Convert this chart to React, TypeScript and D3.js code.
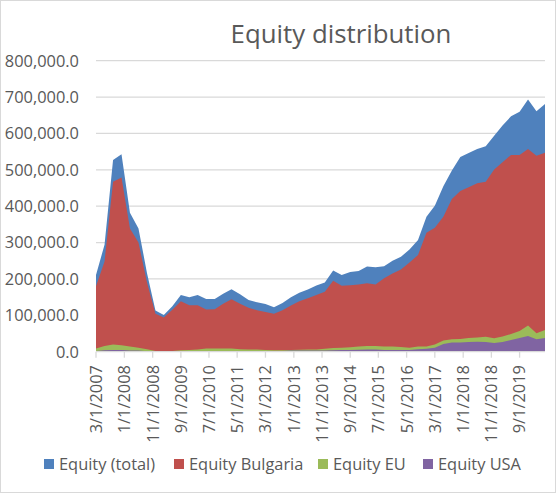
import * as React from 'react'
import { useEffect, useRef, FunctionComponent } from 'react'
import * as d3 from 'd3'

// Quarterly observations, 3/1/2007 .. 6/1/2020
const startDate = new Date(2007, 2, 1)
const endDate = new Date(2020, 5, 1)
const dates = d3.timeMonth.range(startDate, d3.timeMonth.offset(endDate, 1), 3)

const equityTotal = [
  211000, 294000, 527000, 543000, 382000, 339000, 216000, 113000, 101000, 125000,
  156000, 150000, 156000, 145000, 145000, 159000, 172000, 158000, 142000, 136000,
  131000, 122000, 134000, 150000, 162000, 171000, 182000, 190000, 223000, 211000,
  219000, 222000, 234000, 232000, 235000, 250000, 261000, 281000, 307000, 371000,
  401000, 455000, 498000, 535000, 546000, 557000, 565000, 594000, 622000, 647000,
  660000, 693000, 661000, 681000,
]
const equityBulgaria = [
  180000, 248000, 467000, 479000, 339000, 300000, 190000, 104000, 94000, 115000,
  139000, 128000, 128000, 116000, 117000, 132000, 144000, 132000, 121000, 114000,
  109000, 104000, 114000, 127000, 139000, 147000, 156000, 165000, 195000, 181000,
  183000, 185000, 188000, 185000, 202000, 215000, 226000, 245000, 266000, 327000,
  341000, 371000, 420000, 442000, 452000, 463000, 467000, 501000, 521000, 541000,
  541000, 557000, 539000, 547000,
]
const equityEU = [
  9000, 15500, 20000, 18000, 14000, 11000, 7000, 2000, 2000, 2000,
  4000, 5000, 6000, 9000, 9000, 9000, 9000, 7000, 6000, 6000,
  5000, 4000, 4000, 5000, 5500, 6000, 6000, 8000, 10000, 11000,
  12000, 14000, 15500, 15500, 14500, 14000, 13000, 11000, 14000, 14000,
  20000, 31000, 34000, 35000, 38000, 39000, 41000, 37000, 42000, 48500,
  57000, 72000, 51000, 60000,
]
const equityUSA = [
  2000, 4000, 4500, 4500, 3500, 3000, 1500, 500, 500, 500,
  500, 500, 500, 1000, 1000, 1500, 2000, 2000, 2000, 2000,
  2000, 2000, 2000, 3000, 3000, 3000, 3000, 3000, 4000, 4500,
  5000, 5500, 6000, 6000, 5000, 5000, 4600, 4600, 6400, 8000,
  11000, 21000, 25000, 25000, 27000, 27500, 27000, 24000, 27000, 32000,
  38000, 43000, 34000, 37500,
]

const seriesNames = ['Equity (total)', 'Equity Bulgaria', 'Equity EU', 'Equity USA']
const seriesValues = [equityTotal, equityBulgaria, equityEU, equityUSA]
const colors = ['#4f81bd', '#c0504d', '#9bbb59', '#8064a2']

const yTicks = d3.range(0, 800001, 100000)
const xTicks = d3.timeMonth.range(startDate, d3.timeMonth.offset(endDate, 1), 10)

const W = 556
const H = 493
const FONT = '"Open Sans", sans-serif'
const TEXT = '#595959'

const App: FunctionComponent = () => {
  const svgRef = useRef<SVGSVGElement | null>(null)

  useEffect(() => {
    const svg = d3.select(svgRef.current)
    svg.selectAll('*').remove()

    const x = d3.scaleTime().domain([startDate, endDate]).range([96, 545])
    const y = d3.scaleLinear().domain([0, 800000]).range([351.7, 60.7])

    // chart border
    svg.append('rect')
      .attr('x', 0.5).attr('y', 0.5).attr('width', W - 1).attr('height', H - 1)
      .attr('fill', '#fff').attr('stroke', '#d9d9d9')

    svg.append('text')
      .attr('x', 341).attr('y', 43)
      .attr('text-anchor', 'middle')
      .attr('font-family', FONT).attr('font-size', 25.8).attr('fill', TEXT)
      .text('Equity distribution')

    // gridlines + y labels
    const gy = svg.append('g')
    gy.selectAll('line').data(yTicks.slice(1)).enter().append('line')
      .attr('x1', 96).attr('x2', 545)
      .attr('y1', d => y(d)).attr('y2', d => y(d))
      .attr('stroke', '#d9d9d9').attr('stroke-width', 1.3)
    gy.selectAll('text').data(yTicks).enter().append('text')
      .attr('x', 79).attr('y', d => y(d)).attr('dy', '0.36em')
      .attr('text-anchor', 'end')
      .attr('font-family', FONT).attr('font-size', 16.4).attr('fill', TEXT)
      .text(d => d3.format(',.1f')(d))

    // overlapping areas, total at the back
    const area = d3.area<number>()
      .x((d, i) => x(dates[i]))
      .y0(y(0))
      .y1(d => y(d))
    svg.append('g').selectAll('path').data(seriesValues).enter().append('path')
      .attr('d', d => area(d) as string)
      .attr('fill', (d, i) => colors[i])

    // x axis
    const gx = svg.append('g')
    gx.append('line')
      .attr('x1', 96).attr('x2', 545).attr('y1', y(0)).attr('y2', y(0))
      .attr('stroke', '#d9d9d9').attr('stroke-width', 1.3)
    gx.selectAll('line.tick').data(xTicks).enter().append('line')
      .attr('class', 'tick')
      .attr('x1', d => x(d)).attr('x2', d => x(d))
      .attr('y1', y(0)).attr('y2', y(0) + 6)
      .attr('stroke', '#d9d9d9').attr('stroke-width', 1.3)
    gx.selectAll('text').data(xTicks).enter().append('text')
      .attr('transform', d => `translate(${x(d)}, 365) rotate(-90)`)
      .attr('dy', '0.36em')
      .attr('text-anchor', 'end')
      .attr('font-family', FONT).attr('font-size', 16.4).attr('fill', TEXT)
      .text(d => d3.timeFormat('%-m/%-d/%Y')(d))

    // legend
    const legendX = [44, 174, 318, 423]
    const lg = svg.append('g')
    seriesNames.forEach((name, i) => {
      lg.append('rect')
        .attr('x', legendX[i]).attr('y', 459).attr('width', 10).attr('height', 10)
        .attr('fill', colors[i])
      lg.append('text')
        .attr('x', legendX[i] + 15).attr('y', 464).attr('dy', '0.36em')
        .attr('font-family', FONT).attr('font-size', 16.4).attr('fill', TEXT)
        .text(name)
    })
  }, [])

  return (
    <div>
      <style>{'body{margin:0}'}</style>
      <svg ref={svgRef} width={W} height={H} style={{ display: 'block' }} />
    </div>
  )
}

export default App
